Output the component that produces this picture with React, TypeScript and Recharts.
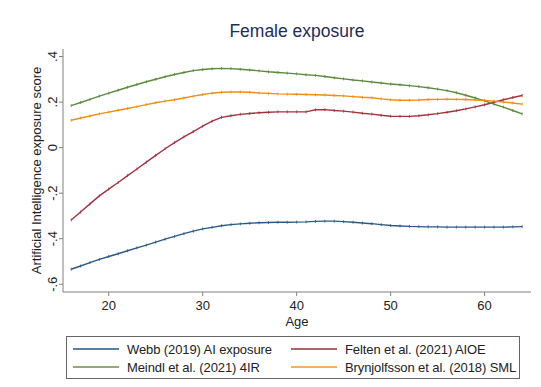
import { LineChart, Line, XAxis, YAxis, Label } from 'recharts'

const ages = [
  16, 17, 18, 19, 20, 21, 22, 23, 24, 25, 26, 27, 28, 29, 30, 31, 32, 33, 34, 35, 36, 37, 38, 39, 40,
  41, 42, 43, 44, 45, 46, 47, 48, 49, 50, 51, 52, 53, 54, 55, 56, 57, 58, 59, 60, 61, 62, 63, 64,
]

const webb = [
  -0.534, -0.52, -0.505, -0.491, -0.478, -0.466, -0.453, -0.44, -0.428, -0.415, -0.402, -0.39, -0.378,
  -0.367, -0.357, -0.35, -0.343, -0.338, -0.335, -0.332, -0.33, -0.329, -0.328, -0.328, -0.327, -0.326,
  -0.324, -0.323, -0.323, -0.325, -0.328, -0.331, -0.334, -0.338, -0.342, -0.344, -0.346, -0.347, -0.348,
  -0.348, -0.349, -0.349, -0.349, -0.349, -0.349, -0.349, -0.349, -0.348, -0.347,
]

const felten = [
  -0.318, -0.283, -0.247, -0.212, -0.182, -0.153, -0.123, -0.094, -0.064, -0.034, -0.005, 0.022, 0.047,
  0.07, 0.094, 0.116, 0.133, 0.14, 0.146, 0.15, 0.153, 0.155, 0.157, 0.157, 0.157, 0.157, 0.166, 0.167,
  0.163, 0.16, 0.156, 0.151, 0.147, 0.142, 0.138, 0.137, 0.137, 0.14, 0.144, 0.149, 0.155, 0.162, 0.17,
  0.179, 0.188, 0.199, 0.21, 0.22, 0.229,
]

const meindl = [
  0.184, 0.198, 0.212, 0.226, 0.239, 0.252, 0.265, 0.277, 0.289, 0.3, 0.311, 0.321, 0.33, 0.338, 0.343,
  0.346, 0.348, 0.347, 0.344, 0.341, 0.337, 0.333, 0.33, 0.327, 0.324, 0.32, 0.317, 0.312, 0.307, 0.302,
  0.297, 0.293, 0.288, 0.284, 0.279, 0.276, 0.272, 0.268, 0.263, 0.257, 0.25, 0.241, 0.23, 0.218, 0.205,
  0.191, 0.178, 0.163, 0.148,
]

const brynjolfsson = [
  0.12, 0.13, 0.139, 0.148, 0.156, 0.164, 0.172, 0.18, 0.189, 0.197, 0.204, 0.21, 0.218, 0.226, 0.233,
  0.239, 0.243, 0.244, 0.244, 0.243, 0.24, 0.238, 0.236, 0.235, 0.234, 0.233, 0.232, 0.231, 0.229, 0.227,
  0.224, 0.221, 0.219, 0.214, 0.21, 0.208, 0.208, 0.209, 0.211, 0.212, 0.213, 0.212, 0.211, 0.209, 0.207,
  0.204, 0.2, 0.196, 0.191,
]

const xTicks = [20, 30, 40, 50, 60]
const yTicks = [-0.6, -0.4, -0.2, 0, 0.2, 0.4]

const series = [
  { key: 'webb', label: 'Webb (2019) AI exposure', color: '#2b5a88', legend: '#5a7fa6' },
  { key: 'felten', label: 'Felten et al. (2021) AIOE', color: '#a3343f', legend: '#b8606a' },
  { key: 'meindl', label: 'Meindl et al. (2021) 4IR', color: '#5c8a3c', legend: '#8fab78' },
  { key: 'brynjolfsson', label: 'Brynjolfsson et al. (2018) SML', color: '#ef8f10', legend: '#f2b060' },
]

const data = ages.map((age, i) => ({
  age,
  webb: webb[i],
  felten: felten[i],
  meindl: meindl[i],
  brynjolfsson: brynjolfsson[i],
}))

const font = '"Liberation Sans", Arial, Helvetica, sans-serif'

const fmt = (v: number) => {
  if (v === 0) return '0'
  const s = Math.abs(v).toFixed(1).replace(/^0/, '')
  return v < 0 ? '-' + s : s
}

function YTick(props: any) {
  const { x, y, payload } = props
  const tx = x
  return (
    <text x={tx} y={y} transform={`rotate(-90, ${tx}, ${y})`} textAnchor="middle" fontSize={13} fill="#222" fontFamily={font}>
      {fmt(payload.value)}
    </text>
  )
}

function Tick(props: any) {
  const { cx, cy, stroke } = props
  if (cx == null || cy == null) return null
  return <line x1={cx} x2={cx} y1={cy - 1.5} y2={cy + 1.5} stroke={stroke} strokeWidth={1} opacity={0.8} />
}

function App() {
  return (
    <div style={{ position: 'absolute', left: 0, top: 0, width: 541, height: 387, fontFamily: font }}>
      <div style={{ position: 'absolute', left: 0, top: 21, width: 594, textAlign: 'center', fontSize: 17.5, color: '#1e2d5a' }}>
        Female exposure
      </div>
      <LineChart width={541} height={387} data={data} margin={{ top: 49, right: 10, left: 0, bottom: 0 }}>
        <XAxis
          dataKey="age"
          type="number"
          domain={[15.13, 64.94]}
          ticks={xTicks}
          height={95}
          tickSize={4}
          tickMargin={5}
          stroke="#808080"
          tick={{ fill: '#222', fontSize: 13, fontFamily: font }}
          allowDataOverflow
        >
          <Label value="Age" position="insideTop" offset={25} fill="#222" fontSize={13} fontFamily={font} />
        </XAxis>
        <YAxis
          type="number"
          domain={[-0.634, 0.433]}
          ticks={yTicks}
          width={63}
          tickSize={4}
          tickMargin={2}
          stroke="#808080"
          tick={<YTick />}
          allowDataOverflow
        >
          <Label
            value="Artificial Intelligence exposure score"
            angle={-90}
            position="insideLeft"
            offset={36}
            style={{ textAnchor: 'middle' }}
            fill="#222"
            fontSize={13}
            fontFamily={font}
          />
        </YAxis>
        {series.map((s) => (
          <Line
            key={s.key}
            dataKey={s.key}
            type="linear"
            stroke={s.color}
            strokeWidth={1.4}
            dot={<Tick />}
            activeDot={false}
            isAnimationActive={false}
          />
        ))}
      </LineChart>
      <div
        style={{
          position: 'absolute',
          left: 66,
          top: 336,
          width: 452,
          height: 41,
          border: '1px solid #666',
          fontSize: 13,
          color: '#222',
        }}
      >
        {series.map((s, i) => (
          <div
            key={s.key}
            style={{
              position: 'absolute',
              left: i % 2 === 0 ? 6 : 224,
              top: i < 2 ? 4 : 22,
              height: 16,
              display: 'flex',
              alignItems: 'center',
              whiteSpace: 'nowrap',
              letterSpacing: -0.1,
            }}
          >
            <span style={{ display: 'inline-block', width: 46, height: 2, background: s.legend, marginRight: 8 }} />
            {s.label}
          </div>
        ))}
      </div>
    </div>
  )
}

export default App
